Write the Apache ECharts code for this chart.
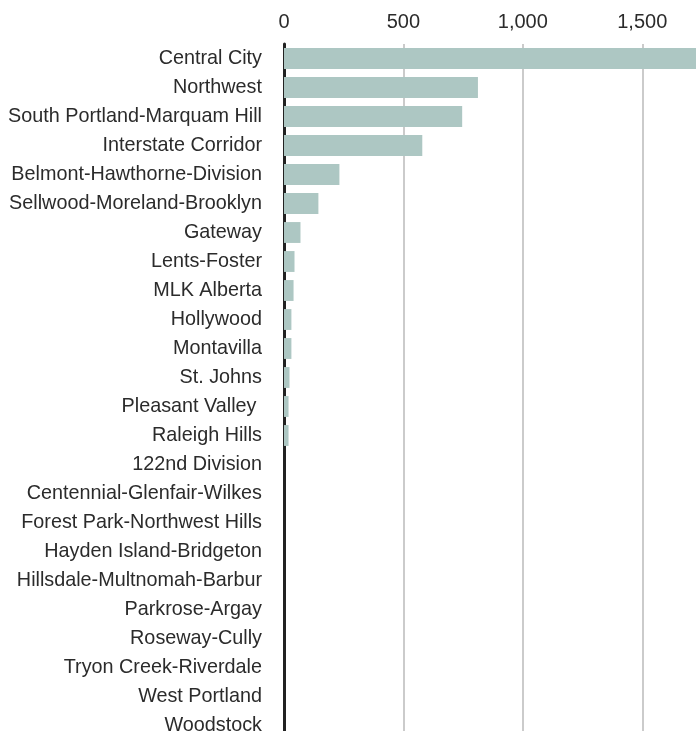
<!DOCTYPE html>
<html>
<head>
<meta charset="utf-8">
<script src="https://cdn.jsdelivr.net/npm/echarts@6/dist/echarts.min.js"></script>
<style>html,body{margin:0;padding:0;background:#fff;}#c{width:696px;height:731px;}</style>
</head>
<body>
<div id="c"></div>
<script>
const categories = ["Central City","Northwest","South Portland-Marquam Hill","Interstate Corridor","Belmont-Hawthorne-Division","Sellwood-Moreland-Brooklyn","Gateway","Lents-Foster","MLK Alberta","Hollywood","Montavilla","St. Johns","Pleasant Valley ","Raleigh Hills","122nd Division","Centennial-Glenfair-Wilkes","Forest Park-Northwest Hills","Hayden Island-Bridgeton","Hillsdale-Multnomah-Barbur","Parkrose-Argay","Roseway-Cully","Tryon Creek-Riverdale","West Portland","Woodstock"];
const values = [1760,812,746,579,232,144,69,44,40,31,31,23,19,19,0,0,0,0,0,0,0,0,0,0];
const tickValues = [0,500,1000,1500];

const chart = echarts.init(document.getElementById('c'));
const font = "'Liberation Sans', Arial, sans-serif";
chart.setOption({
  animation:false,
  grid:{left:284,right:0,top:44,height:696,containLabel:false,outerBoundsMode:'none'},
  xAxis:{
    type:'value',position:'top',min:0,max:1725,interval:500,
    axisLine:{show:false},axisTick:{show:false},
    splitLine:{show:true,showMaxLine:false,lineStyle:{color:'#cbcbcb',width:2}},
    axisLabel:{color:'#2b2b2b',fontFamily:font,fontSize:20,margin:12,
      formatter:v=>tickValues.includes(v)?v.toLocaleString('en-US'):''}
  },
  yAxis:{
    type:'category',inverse:true,data:categories,
    axisLine:{show:true,lineStyle:{color:'#222',width:3}},
    axisTick:{show:false},
    axisLabel:{color:'#2b2b2b',fontFamily:font,fontSize:19.8,margin:22}
  },
  series:[{type:'bar',data:values,barCategoryGap:'28%',itemStyle:{color:'#adc7c3'},silent:true}]
});
</script>
</body>
</html>
